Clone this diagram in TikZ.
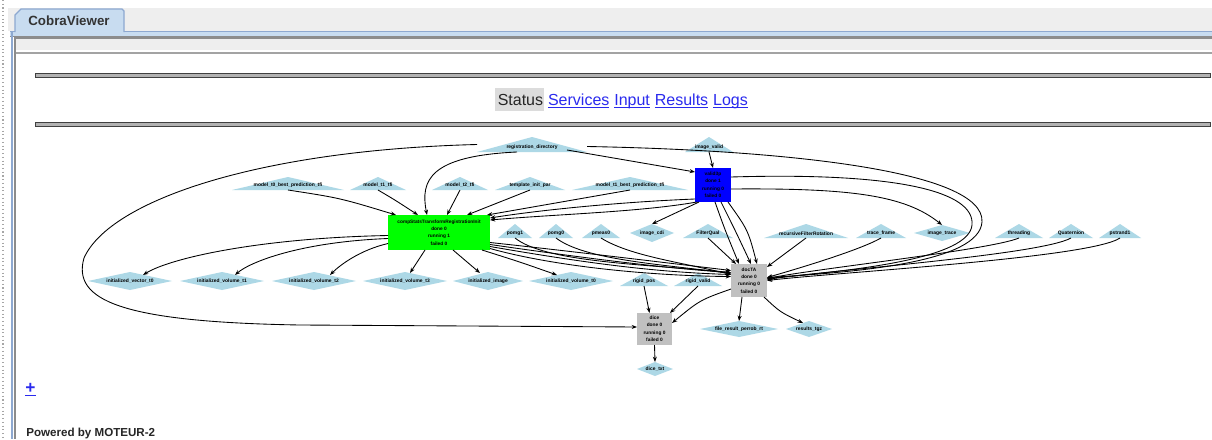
\documentclass[tikz,border=0pt]{standalone}
\usepackage{fontspec}
\setmainfont{Liberation Sans}
\usetikzlibrary{arrows.meta,calc}
\definecolor{panelgrey}{HTML}{EEEEEE}
\definecolor{tabblue}{HTML}{C8DCF0}
\definecolor{tabedge}{HTML}{8DA8D0}
\definecolor{frameline}{HTML}{8C8C8C}
\definecolor{shapefill}{HTML}{ADD8E6}
\definecolor{linkblue}{HTML}{2A2AEE}
\definecolor{statusgrey}{HTML}{DCDCDC}
\definecolor{waitgrey}{HTML}{C0C0C0}

% triangle input: name, centre x, top y, base y, half width, label
\newcommand\trinode[6]{%
  \fill[shapefill] (#2-#5,#4) -- (#2,#3) -- (#2+#5,#4) -- cycle;
  \node[hull, minimum width={1.5pt*#5}, minimum height={0.75pt*(#4-#3)}] (#1) at (#2,{(#3+#4)/2}) {};
  \node[tinylbl] at (#2,#4-4.5) {#6};}
% diamond output: name, centre x, centre y, half width, half height, label
\newcommand\dianode[6]{%
  \fill[shapefill] (#2-#4,#3) -- (#2,#3-#5) -- (#2+#4,#3) -- (#2,#3+#5) -- cycle;
  \node[hull, minimum width={1.5pt*#4}, minimum height={1.5pt*#5}] (#1) at (#2,#3) {};
  \node[tinylbl] at (#2,#3) {#6};}

\begin{document}
\begin{tikzpicture}[x=0.75pt,y=-0.75pt,
  hull/.style={rectangle, inner sep=0pt, outer sep=0pt},
  tinylbl/.style={inner sep=0pt, font=\fontsize{3.7}{5.6}\selectfont\bfseries},
  statebox/.style={rectangle, inner sep=0pt, outer sep=0pt, align=center,
    font=\fontsize{3.6}{5.6}\selectfont\bfseries},
  e/.style={draw=black, line width=0.65pt, -{Stealth[length=4pt,width=3pt]}},
  navtxt/.style={inner sep=0pt, font=\fontsize{12}{14}\selectfont},
  navlink/.style={navtxt, text=linkblue}]
\useasboundingbox (0,0) rectangle (1212,439);
\fill[white] (0,0) rectangle (1212,439);

% window frame and tab strip
\fill[panelgrey] (8,8) rectangle (1212,31);
\draw[gray!70, dotted, line width=0.8pt] (3,0) -- (3,439);
\fill[tabblue] (10,31) rectangle (1212,36);
\draw[tabedge, line width=1pt] (10,31.5) -- (1212,31.5);
\draw[frameline, line width=1pt] (10,36.8) -- (1212,36.8);
\draw[fill=tabblue, draw=tabedge, line width=0.8pt]
  (15,32) -- (15,15) -- (21,9) -- (122,9) -- (124,11) -- (124,32);
\node[font=\fontsize{10}{12}\selectfont\bfseries, text=black!80, inner sep=0pt] (tab) at (69,21) {CobraViewer};
\fill[panelgrey] (15,37) rectangle (1212,50);
\draw[frameline, line width=1.5pt] (15,38) -- (1212,38);
\draw[frameline!80, line width=1.5pt] (15,52.5) -- (1212,52.5);
\draw[tabedge, line width=1.5pt] (11.5,31) -- (11.5,439);
\draw[frameline, line width=1.5pt] (15.2,37) -- (15.2,439);

% horizontal rules
\draw[fill=gray!60, draw=black!75, line width=0.6pt] (35,73) rectangle (1210,77);
\draw[fill=gray!60, draw=black!75, line width=0.6pt] (35,122) rectangle (1210,126);

% navigation line
\fill[statusgrey] (495,88) rectangle (544,111);
\node[navtxt, text=black!85, anchor=base west] (st) at (497.5,105) {Status};
\node[navlink, anchor=base west] (sv) at ($(st.base east)+(4.4,0)$) {\underline{\smash{Services}}};
\node[navlink, anchor=base west] (inp) at ($(sv.base east)+(4.4,0)$) {\underline{\smash{Input}}};
\node[navlink, anchor=base west] (res) at ($(inp.base east)+(4.4,0)$) {\underline{\smash{Results}}};
\node[navlink, anchor=base west] (lg) at ($(res.base east)+(4.4,0)$) {\underline{\smash{Logs}}};

% workflow inputs (triangles)
\trinode{reg}{532}{137}{152}{55}{registration\_directory}
\trinode{imgvalid}{709}{137}{152}{24}{image\_valid}
\trinode{m0}{288}{177}{190}{56}{model\_t0\_best\_prediction\_tfi}
\trinode{m1}{378}{177}{190}{28}{model\_t1\_tfi}
\trinode{m2}{460}{177}{190}{28}{model\_t2\_tfi}
\trinode{tpl}{530}{177}{190}{35}{template\_init\_par}
\trinode{m3}{630}{177}{190}{58}{model\_t1\_best\_prediction\_tfi}
\trinode{pomg1}{515}{224}{238}{17}{pomg1}
\trinode{pomg0}{556}{224}{238}{17}{pomg0}
\trinode{pmeas}{601}{224}{238}{19}{pmeas0}
\trinode{fq}{708}{224}{238}{25}{FilterQual}
\trinode{rec}{806}{224}{238}{42}{recursiveFilterRotation}
\trinode{trf}{881}{224}{238}{25}{trace\_frame}
\trinode{thr}{1019}{224}{238}{24}{threading}
\trinode{qua}{1071}{224}{238}{22}{Quaternion}
\trinode{ps1}{1120}{224}{238}{21}{pstrand1}
\trinode{rigpos}{644}{273}{286}{24}{rigid\_pos}
\trinode{rigval}{698}{273}{286}{24}{rigid\_valid}

% workflow outputs (diamonds)
\dianode{cdi}{652}{233}{22}{9}{image\_cdi}
\dianode{itr}{942}{233}{28}{8}{image\_trace}
\dianode{iv0}{130}{281}{42}{9}{initialized\_vector\_t0}
\dianode{iv1}{222}{281}{42}{9}{initialized\_volume\_t1}
\dianode{iv2}{314}{281}{42}{9}{initialized\_volume\_t2}
\dianode{iv3}{405}{281}{42}{9}{initialized\_volume\_t3}
\dianode{iimg}{488}{281}{35}{9}{initialized\_image}
\dianode{ivt0}{571}{281}{42}{9}{initialized\_volume\_t0}
\dianode{frp}{739}{329}{39}{8}{file\_result\_perrob\_rt}
\dianode{rtgz}{809}{329}{23}{8}{results\_tgz}
\dianode{dtxt}{655}{369}{18}{7}{dice\_txt}

% processing steps
\node[statebox, fill=blue, minimum width=27pt, minimum height=25.5pt] (blue) at (713,185)
  {valid3p\\done 1\\running 0\\failed 0};
\node[statebox, fill=green, minimum width=76.5pt, minimum height=26.25pt] (green) at (439,232.5)
  {compStatsTransformRegistrationInit\\done 0\\running 1\\failed 0};
\node[statebox, fill=waitgrey, minimum width=27pt, minimum height=24.75pt] (docTA) at (749,280.5)
  {docTA\\done 0\\running 0\\failed 0};
\node[statebox, fill=waitgrey, minimum width=26.25pt, minimum height=24pt] (dice) at (654.5,329)
  {dice\\done 0\\running 0\\failed 0};

% links into the first steps
\draw[e] ($(reg.south east)+(-20,-2)$) -- ($(blue.north west)+(0,4)$);
\draw[e] (imgvalid.south) -- (blue.north);
\draw[e] ($(reg.south)+(-15,0)$) .. controls (430,156) and (420,180) .. ($(green.north)+(-12,0)$);
\draw[e] (m0.south) .. controls (340,198) .. ($(green.north west)+(8,0)$);
\draw[e] (m1.south) .. controls (395,200) .. ($(green.north west)+(30,0)$);
\draw[e] (m2.south) -- ($(green.north)+(8,0)$);
\draw[e] (tpl.south) -- ($(green.north)+(28,0)$);
\draw[e] (m3.south) -- ($(green.north east)+(-3,0)$);

% long loops round the graph
\draw[e] (reg.west) .. controls (260,150) and (110,200) .. (84,258)
  .. controls (72,300) and (120,322) .. (300,325) -- ($(dice.west)+(0,-2)$);
\draw[e] ($(reg.east)+(0,2)$) .. controls (780,150) and (985,170) .. (982,222)
  .. controls (979,262) and (860,272) .. ($(docTA.east)+(0,-3)$);
\draw[e] ($(blue.east)+(0,-8)$) .. controls (900,172) and (975,192) .. (972,225)
  .. controls (969,258) and (860,270) .. ($(docTA.east)+(0,-2)$);

% from the blue step
\draw[e] ($(blue.east)+(0,4)$) .. controls (850,188) and (905,195) .. (itr.north);
\draw[e] ($(blue.south)+(2,0)$) .. controls (725,230) .. ($(docTA.north west)+(8,0)$);
\draw[e] ($(blue.south)+(8,0)$) .. controls (735,230) .. ($(docTA.north)+(2,0)$);
\draw[e] ($(blue.south east)+(-3,0)$) .. controls (748,230) .. ($(docTA.north)+(8,0)$);
\draw[e] ($(blue.south west)+(0,-3)$) .. controls (620,202) and (540,210) .. ($(green.north east)+(0,3)$);
\draw[e] ($(blue.south west)+(2,0)$) .. controls (640,212) and (560,214) .. ($(green.north east)+(0,5)$);
\draw[e] ($(blue.south west)+(4,0)$) -- (cdi.north);

% from the green step
\draw[e] ($(green.west)+(0,3)$) .. controls (260,238) and (170,258) .. ($(iv0.north)+(13,3)$);
\draw[e] ($(green.west)+(0,6)$) .. controls (300,242) and (250,262) .. ($(iv1.north)+(13,3)$);
\draw[e] ($(green.west)+(0,11)$) .. controls (360,250) and (340,265) .. ($(iv2.north)+(16,3)$);
\draw[e] ($(green.south)+(-14,0)$) -- ($(iv3.north)+(5,1)$);
\draw[e] ($(green.south)+(14,0)$) -- ($(iimg.north)+(-8,1)$);
\draw[e] ($(green.south east)+(-8,0)$) .. controls (520,262) .. ($(ivt0.north)+(-14,3)$);
\draw[e] ($(green.east)+(0,10)$) .. controls (560,250) and (660,262) .. ($(docTA.west)+(0,-10)$);
\draw[e] ($(green.east)+(0,12)$) .. controls (570,256) and (660,268) .. ($(docTA.west)+(0,-8)$);
\draw[e] ($(green.east)+(0,14)$) .. controls (580,262) and (650,272) .. ($(docTA.west)+(0,-6)$);
\draw[e] ($(green.east)+(0,16)$) .. controls (560,268) and (660,276) .. ($(docTA.west)+(0,-4)$);

% parameters into docTA
\draw[e] (pomg1.south) .. controls (545,262) and (640,264) .. ($(docTA.west)+(0,-8)$);
\draw[e] (pomg0.south) .. controls (585,260) and (660,264) .. ($(docTA.west)+(0,-7)$);
\draw[e] (pmeas.south) .. controls (630,256) and (680,262) .. ($(docTA.west)+(0,-6)$);
\draw[e] (fq.south) -- ($(docTA.north west)+(5,0)$);
\draw[e] (rec.south) -- ($(docTA.north east)+(0,3)$);
\draw[e] (trf.south) .. controls (860,250) and (800,268) .. ($(docTA.east)+(0,-3)$);
\draw[e] (thr.south) .. controls (990,250) and (820,268) .. ($(docTA.east)+(0,-2)$);
\draw[e] (qua.south) .. controls (1040,255) and (830,270) .. ($(docTA.east)+(0,-1)$);
\draw[e] (ps1.south) .. controls (1090,258) and (840,272) .. (docTA.east);

% last stage
\draw[e] (rigpos.south) -- ($(dice.north)+(-5,0)$);
\draw[e] (rigval.south) -- ($(dice.north east)+(-2,0)$);
\draw[e] ($(docTA.south west)+(0,-8)$) .. controls (700,300) .. ($(dice.east)+(0,-6)$);
\draw[e] ($(docTA.south)+(-7,0)$) -- (frp.north);
\draw[e] ($(docTA.south east)+(-3,0)$) .. controls (780,312) .. ($(rtgz.north)+(-6,2)$);
\draw[e] (dice.south) -- (dtxt.north);

% footer
\node[font=\fontsize{13}{15}\selectfont\bfseries, text=linkblue, inner sep=0pt, anchor=base] (plus) at (30.5,393) {\underline{+}};
\node[font=\fontsize{8.7}{10}\selectfont\bfseries, text=black!85, inner sep=0pt, anchor=base west] (pw) at (26,436) {Powered by MOTEUR-2};
\end{tikzpicture}
\end{document}
